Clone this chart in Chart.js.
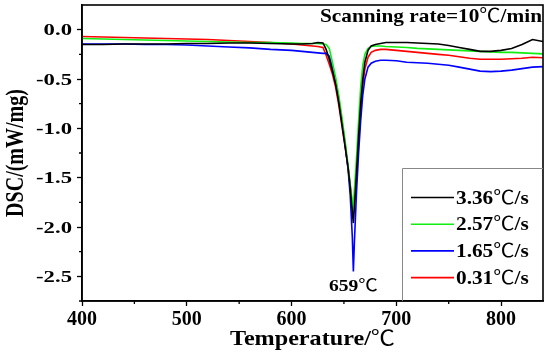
<!DOCTYPE html>
<html>
<head>
<meta charset="utf-8">
<script src="https://cdn.jsdelivr.net/npm/chart.js@4/dist/chart.umd.min.js"></script>
<style>
html,body{margin:0;padding:0;background:#fff;}
canvas{display:block;}
</style>
</head>
<body>
<canvas id="c" width="550" height="355"></canvas>
<script>
// Temperature (°C) sample points shared by all curves
const temps = [400,420,440,460,480,500,520,540,560,580,600,610,620,625,630,
  633,636,639,642,645,648,651,654,656,658,659,660,662,664,666,668,670,
  673,676,680,685,690,700,710,720,730,740,750,760,770,780,790,800,810,820,830,840];

const rate336 = [-0.15,-0.15,-0.145,-0.145,-0.145,-0.14,-0.14,-0.135,-0.135,-0.14,-0.145,-0.145,-0.14,-0.13,-0.135,
  -0.2,-0.3,-0.42,-0.55,-0.73,-0.95,-1.17,-1.4,-1.6,-1.85,-1.96,-1.8,-1.45,-1.08,-0.75,-0.5,-0.33,
  -0.21,-0.165,-0.15,-0.14,-0.13,-0.13,-0.13,-0.135,-0.14,-0.145,-0.16,-0.18,-0.2,-0.22,-0.22,-0.21,-0.19,-0.15,-0.1,-0.12];

const rate257 = [-0.09,-0.095,-0.1,-0.105,-0.11,-0.115,-0.12,-0.125,-0.13,-0.13,-0.135,-0.14,-0.14,-0.14,-0.145,
  -0.15,-0.19,-0.33,-0.48,-0.66,-0.88,-1.12,-1.38,-1.57,-1.75,-1.8,-1.62,-1.3,-0.92,-0.58,-0.36,-0.25,
  -0.19,-0.17,-0.165,-0.165,-0.17,-0.175,-0.18,-0.19,-0.195,-0.2,-0.205,-0.21,-0.215,-0.22,-0.225,-0.23,-0.23,-0.235,-0.24,-0.245];

const rate165 = [-0.145,-0.145,-0.145,-0.15,-0.15,-0.155,-0.165,-0.175,-0.185,-0.2,-0.21,-0.22,-0.23,-0.235,-0.24,
  -0.24,-0.27,-0.38,-0.52,-0.7,-0.92,-1.15,-1.42,-1.68,-2.1,-2.45,-2.15,-1.65,-1.25,-0.92,-0.66,-0.5,
  -0.38,-0.34,-0.32,-0.31,-0.31,-0.315,-0.33,-0.335,-0.34,-0.35,-0.36,-0.38,-0.4,-0.42,-0.425,-0.42,-0.41,-0.395,-0.38,-0.375];

const rate031 = [-0.07,-0.075,-0.08,-0.085,-0.09,-0.095,-0.1,-0.11,-0.12,-0.13,-0.145,-0.155,-0.165,-0.17,-0.18,
  -0.26,-0.35,-0.45,-0.58,-0.76,-0.97,-1.18,-1.4,-1.58,-1.78,-1.84,-1.75,-1.5,-1.15,-0.82,-0.56,-0.4,
  -0.28,-0.23,-0.21,-0.2,-0.2,-0.21,-0.22,-0.23,-0.24,-0.25,-0.26,-0.275,-0.29,-0.3,-0.3,-0.3,-0.295,-0.29,-0.28,-0.285];

const seriesLabels = ['3.36\u2103/s','2.57\u2103/s','1.65\u2103/s','0.31\u2103/s'];
const xTicks = [400,500,600,700,800];
const xMinor = [450,550,650,750];
const yTicks = [-2.5,-2.0,-1.5,-1.0,-0.5,0.0];
const yMinor = [-2.75,-2.25,-1.75,-1.25,-0.75,-0.25];
const peakT = 659;
const peakLabel = '659\u2103';
const noteText = 'Scanning rate=10\u2103/min';
const xTitle = 'Temperature/\u2103';
const yTitle = 'DSC/(mW/mg)';

const SERIF = "'Liberation Serif','Times New Roman',serif";
Chart.defaults.font.family = SERIF;
Chart.defaults.color = '#000';

function pts(vals){ return temps.map((t,i)=>({x:t,y:vals[i]})); }

const colors = ['#000000','#11ee11','#0000ff','#ff0000'];
const allVals = [rate336, rate257, rate165, rate031];

const datasets = allVals.map((v,i)=>({
  label: seriesLabels[i],
  data: pts(v),
  borderColor: colors[i],
  borderWidth: 1.6,
  pointRadius: 0,
  tension: 0,
  fill: false
}));

// draws text (bold serif, with a thin ℃ glyph) stretched horizontally by sx, baseline at y
function drawRich(ctx, text, x, y, size, sx, sy, align){
  const parts = text.split(/(\u2103)/).filter(s=>s);
  const fontFor = p => p === '\u2103' ? size + "px 'Noto Sans CJK SC','DejaVu Sans',sans-serif" : 'bold ' + size + 'px ' + SERIF;
  const widths = parts.map(p=>{ ctx.font = fontFor(p); return ctx.measureText(p).width; });
  const total = widths.reduce((a,b)=>a+b,0) * sx;
  const start = align === 'right' ? x - total : align === 'center' ? x - total/2 : x;
  ctx.save();
  ctx.translate(start, y);
  ctx.scale(sx, sy);
  ctx.textAlign = 'left';
  ctx.textBaseline = 'alphabetic';
  ctx.fillStyle = '#000';
  let cx = 0;
  parts.forEach((p,i)=>{ ctx.font = fontFor(p); ctx.fillText(p, cx, 0); cx += widths[i]; });
  ctx.restore();
}

const framePlugin = {
  id: 'frame',
  afterDraw(chart){
    const {ctx, chartArea:a, scales} = chart;
    ctx.save();
    ctx.strokeStyle = '#000';
    ctx.lineWidth = 1.6;
    ctx.strokeRect(a.left, a.top, a.right - a.left, a.bottom - a.top);
    ctx.lineWidth = 1.3;
    ctx.beginPath();
    xMinor.forEach(v=>{
      const px = scales.x.getPixelForValue(v);
      ctx.moveTo(px, a.bottom); ctx.lineTo(px, a.bottom + 3);
    });
    yMinor.forEach(v=>{
      const py = scales.y.getPixelForValue(v);
      ctx.moveTo(a.left, py); ctx.lineTo(a.left - 3, py);
    });
    ctx.stroke();
    ctx.restore();

    // y tick labels
    yTicks.forEach(v=>{
      drawRich(ctx, v.toFixed(1), a.left - 10, scales.y.getPixelForValue(v) + 5.5, 16, 1.42, 1, 'right');
    });

    // axis titles
    const cxp = (a.left + a.right) / 2, cyp = (a.top + a.bottom) / 2;
    drawRich(ctx, xTitle, cxp, 345, 21, 1.15, 1, 'center');
    ctx.save();
    ctx.translate(23, cyp);
    ctx.rotate(-Math.PI/2);
    drawRich(ctx, yTitle, 0, 0, 20, 1, 1.3, 'center');
    ctx.restore();

    // note text
    drawRich(ctx, noteText, a.right - 1, a.top + 17, 19, 1.12, 1, 'right');

    // peak label
    const minBlue = Math.min(...rate165);
    drawRich(ctx, peakLabel, scales.x.getPixelForValue(peakT), scales.y.getPixelForValue(minBlue) + 20, 17, 1.15, 1, 'center');

    // legend box
    const bx = a.right - 141, by = a.top + 163;
    ctx.save();
    ctx.strokeStyle = '#888';
    ctx.lineWidth = 1;
    ctx.beginPath();
    ctx.moveTo(bx + 0.5, a.bottom);
    ctx.lineTo(bx + 0.5, by + 0.5);
    ctx.lineTo(a.right, by + 0.5);
    ctx.stroke();
    chart.data.datasets.forEach((ds,i)=>{
      const ly = by + 29.5 + i * 26.7;
      ctx.strokeStyle = ds.borderColor;
      ctx.lineWidth = 1.6;
      ctx.beginPath();
      ctx.moveTo(bx + 9, ly); ctx.lineTo(bx + 52, ly);
      ctx.stroke();
      drawRich(ctx, ds.label, bx + 54, ly + 6, 19, 1.12, 1, 'left');
    });
    ctx.restore();
  }
};

new Chart(document.getElementById('c'), {
  type: 'line',
  data: { datasets },
  options: {
    responsive: false,
    animation: false,
    devicePixelRatio: 1,
    layout: { padding: { top: 5, right: 7, left: 0, bottom: 0 } },
    plugins: { legend: { display: false }, tooltip: { enabled: false } },
    scales: {
      x: {
        type: 'linear',
        min: 400, max: 840,
        afterFit(s){ s.height = 54; },
        afterBuildTicks(s){ s.ticks = xTicks.map(v=>({value:v})); },
        grid: { drawOnChartArea: false, drawTicks: true, tickLength: 5, color: '#000', tickWidth: 1.3 },
        border: { display: true, color: '#000', width: 1.6 },
        ticks: { font: { size: 20, weight: 'bold' }, color: '#000', padding: 2, maxRotation: 0,
          callback: v => String(v) },
        title: { display: false }
      },
      y: {
        type: 'linear',
        min: -2.75, max: 0.25,
        afterFit(s){ s.width = 82; },
        afterBuildTicks(s){ s.ticks = yTicks.map(v=>({value:v})); },
        grid: { drawOnChartArea: false, drawTicks: true, tickLength: 5, color: '#000', tickWidth: 1.3 },
        border: { display: true, color: '#000', width: 1.6 },
        ticks: { display: false },
        title: { display: false }
      }
    }
  },
  plugins: [framePlugin]
});
</script>
</body>
</html>
